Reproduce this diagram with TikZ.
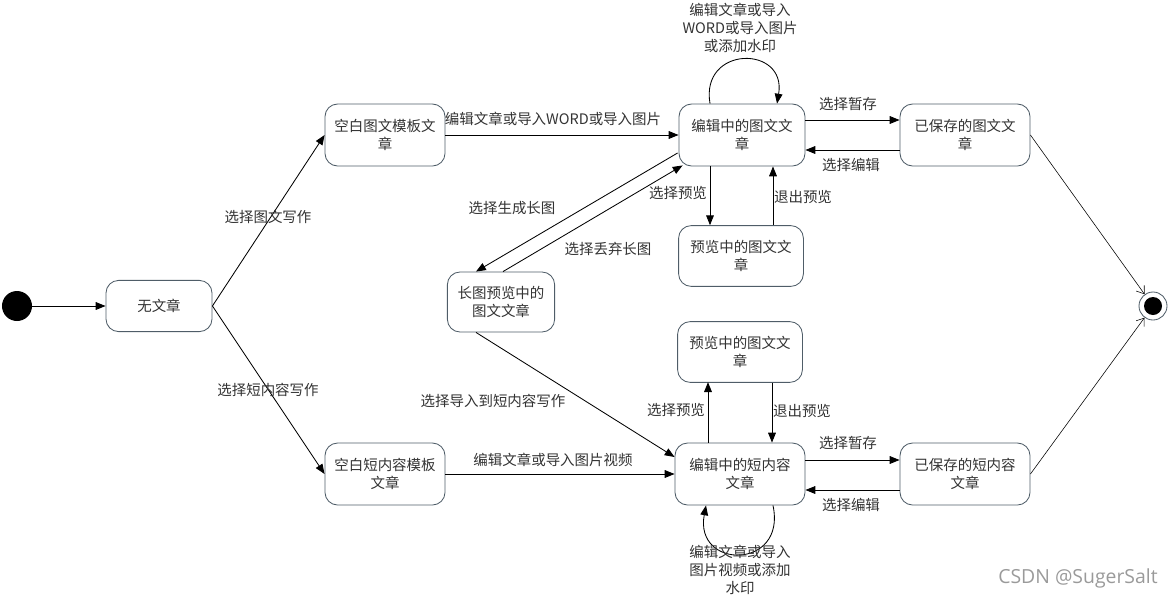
\documentclass[tikz,border=0pt]{standalone}
\usepackage{fontspec}
\setmainfont{Noto Sans CJK SC}
\newfontfamily\wmfont{Open Sans}
\usepackage{tikz}
\usetikzlibrary{arrows.meta,calc}
\usepackage{xcolor}
\definecolor{boxline}{HTML}{4F5D68}
\definecolor{txt}{HTML}{333333}
\definecolor{wmgray}{HTML}{9A9A9A}

\tikzset{
  state/.style={draw=boxline, rounded corners=9pt, align=center, text=txt,
    inner sep=1pt, font=\fontsize{10.3}{12.8}\selectfont},
  lbl/.style={text=txt, align=center, inner sep=0pt,
    font=\fontsize{10.3}{12.6}\selectfont},
  arr/.style={-{Triangle[length=7pt,width=5.5pt]}},
  toend/.style={-{Straight Barb[length=5pt,width=7pt]}, line width=0.4pt},
}

\begin{document}
\begin{tikzpicture}[x=0.025cm,y=-0.025cm,line width=0.6pt]
\useasboundingbox (0,0) rectangle (1172,599);
% states
\node[circle,fill=black,minimum size=0.75cm,inner sep=0pt] (init) at (17,306) {};
\node[state,minimum width=2.65cm,minimum height=1.28cm] (none) at (159,306) {无文章};
\node[state,minimum width=3cm,minimum height=1.55cm] (tplpic) at (385,135) {空白图文模板文\\章};
\node[state,minimum width=3cm,minimum height=1.55cm] (tplshort) at (385,474) {空白短内容模板\\文章};
\node[state,minimum width=3.15cm,minimum height=1.55cm] (editpic) at (742,135) {编辑中的图文文\\章};
\node[state,minimum width=3.25cm,minimum height=1.55cm] (savepic) at (965,135) {已保存的图文文\\章};
\node[state,minimum width=3.12cm,minimum height=1.52cm] (viewpic) at (741,256) {预览中的图文文\\章};
\node[state,minimum width=2.68cm,minimum height=1.5cm] (longpic) at (501,302) {长图预览中的\\图文文章};
\node[state,minimum width=3.12cm,minimum height=1.52cm] (viewshort) at (740,352) {预览中的图文文\\章};
\node[state,minimum width=3.25cm,minimum height=1.55cm] (editshort) at (740,474) {编辑中的短内容\\文章};
\node[state,minimum width=3.25cm,minimum height=1.55cm] (saveshort) at (965,474) {已保存的短内容\\文章};
\node[circle,draw=boxline,minimum size=0.7cm,inner sep=0pt] (fin) at (1153,306) {};
\node[circle,fill=black,minimum size=0.45cm,inner sep=0pt] (findot) at (fin) {};

% transitions
\draw[arr] (init) -- (none);
\draw[arr] (none.east) -- (tplpic.west);
\draw[arr] (none.east) -- (tplshort.west);
\draw[arr] (tplpic.east) -- (editpic.west);
\draw[arr] (tplshort.east) -- (editshort.west);
\draw[arr] ($(editpic.north)+(-32,0)$) .. controls (700,45) and (787,45) .. ($(editpic.north)+(35,0)$);
\draw[arr] ($(editpic.east)+(0,-15)$) -- ($(savepic.west)+(0,-15)$);
\draw[arr] ($(savepic.west)+(0,15)$) -- ($(editpic.east)+(0,15)$);
\draw[arr] ($(editpic.south)+(-32,0)$) -- ($(viewpic.north)+(-31,0)$);
\draw[arr] ($(viewpic.north)+(32,0)$) -- ($(editpic.south)+(31,0)$);
\draw[arr] ($(editpic.west)+(-1,18)$) -- ($(longpic.north)+(-25,0)$);
\draw[arr] ($(longpic.north)+(2,0)$) -- ($(editpic.south west)+(4,-1)$);
\draw[arr] ($(longpic.south)+(-25,0)$) -- ($(editshort.west)+(0,-17)$);
\draw[arr] ($(editshort.north)+(-32,0)$) -- ($(viewshort.north)+(-32,61)$);
\draw[arr] ($(viewshort.south)+(32,0)$) -- ($(editshort.north)+(32,0)$);
\draw[arr] ($(editshort.east)+(0,-14)$) -- ($(saveshort.west)+(0,-14)$);
\draw[arr] ($(saveshort.west)+(0,16)$) -- ($(editshort.east)+(0,16)$);
\draw[arr] ($(editshort.south)+(33,0)$) .. controls (787,570) and (694,570) .. ($(editshort.south)+(-34,0)$);
\draw[toend] (savepic.east) -- (fin);
\draw[toend] (saveshort.east) -- (fin);

% labels
\node[lbl] (l1) at (268,217) {选择图文写作};
\node[lbl] (l2) at (268,390) {选择短内容写作};
\node[lbl] (l3) at (553,119) {编辑文章或导入WORD或导入图片};
\node[lbl] (l4) at (740,28) {编辑文章或导入\\WORD或导入图片\\或添加水印};
\node[lbl] (l5) at (848,104) {选择暂存};
\node[lbl] (l6) at (851,165) {选择编辑};
\node[lbl] (l7) at (678,193) {选择预览};
\node[lbl] (l8) at (803,197) {退出预览};
\node[lbl] (l9) at (512,208) {选择生成长图};
\node[lbl] (l10) at (608,249) {选择丢弃长图};
\node[lbl] (l11) at (493,401) {选择导入到短内容写作};
\node[lbl] (l12) at (553,460) {编辑文章或导入图片视频};
\node[lbl] (l13) at (676,410) {选择预览};
\node[lbl] (l14) at (802,411) {退出预览};
\node[lbl] (l15) at (848,443) {选择暂存};
\node[lbl] (l16) at (851,505) {选择编辑};
\node[lbl] (l17) at (740,570) {编辑文章或导入\\图片视频或添加\\水印};
\node[text=wmgray,inner sep=0pt,font=\wmfont\fontsize{13.8}{15}\selectfont] (mark) at (1078,578) {CSDN @SugerSalt};
\end{tikzpicture}
\end{document}
